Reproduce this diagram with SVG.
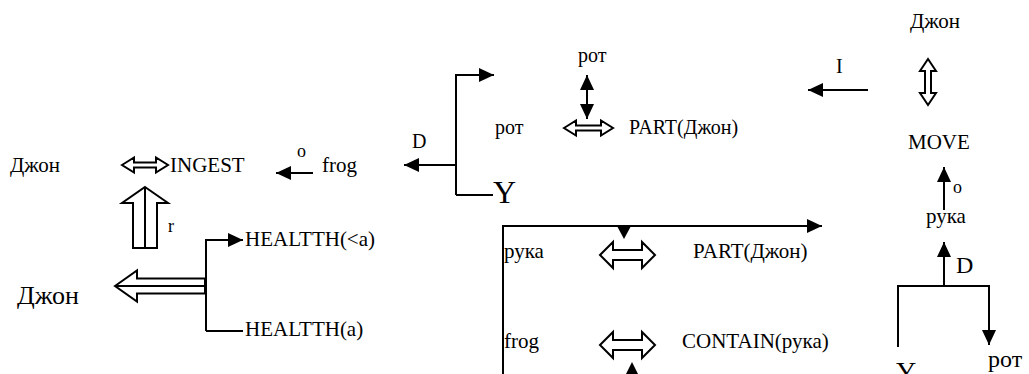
<svg xmlns="http://www.w3.org/2000/svg" width="1029" height="374" viewBox="0 0 1029 374">
<style>
.ln{fill:none;stroke:#000;stroke-width:2}
.ho{fill:#fff;stroke:#000;stroke-width:2;stroke-linejoin:miter}
.fh{fill:#000}
</style>
<defs>
<marker id="ah" viewBox="0 0 15 14" refX="15" refY="7" markerWidth="15" markerHeight="14" orient="auto" markerUnits="userSpaceOnUse">
<path d="M0,0 L15,7 L0,14 Z" fill="#000"/>
</marker>
</defs>
<rect width="1029" height="374" fill="#fff"/>
<g id="connectors">
<path class="ho" d="M122,165 L134,157.5 L134,162.5 L156,162.5 L156,157.5 L168,165 L156,172.5 L156,167.5 L134,167.5 L134,172.5 Z"/>
<path class="ho" d="M145,187 L168,203 L157,203 L157,248 L133,248 L133,203 L122,203 Z"/>
<path class="ln" d="M145,187 V248"/>
<path class="ho" d="M115,286 L137,270.5 L137,278.5 L205,278.5 L205,293.5 L137,293.5 L137,301.5 Z"/>
<path class="ln" d="M115,286 H205"/>
<path class="ln" d="M206,331 V240 H243" marker-end="url(#ah)"/>
<path class="ln" d="M206,331 H243"/>
<path class="ln" d="M313,173 H276" marker-end="url(#ah)"/>
<path class="ln" d="M456,195 V75 H494" marker-end="url(#ah)"/>
<path class="ln" d="M456,195 H493"/>
<path class="ln" d="M456,165 H404" marker-end="url(#ah)"/>
<path class="ln" d="M587,97 V75" marker-end="url(#ah)"/>
<path class="ln" d="M587,97 V119" marker-end="url(#ah)"/>
<path class="ho" d="M564,128 L576,120.5 L576,125.5 L601,125.5 L601,120.5 L613,128 L601,135.5 L601,130.5 L576,130.5 L576,135.5 Z"/>
<path class="ln" d="M868,90 H808" marker-end="url(#ah)"/>
<path class="ho" d="M928,59 L936,71 L931,71 L931,93 L936,93 L928,105 L920,93 L925,93 L925,71 L920,71 Z"/>
<path class="ln" d="M944,210 V167" marker-end="url(#ah)"/>
<path class="ln" d="M944,286 V242" marker-end="url(#ah)"/>
<path class="ln" d="M898,347 V286 H989 V345" marker-end="url(#ah)"/>
<path class="ln" d="M503,376 V226 H822" marker-end="url(#ah)"/>
<polygon class="fh" points="617,226 631,226 624,239"/>
<path class="ho" d="M600,255 L613,242 L613,250 L642,250 L642,242 L655,255 L642,268 L642,260 L613,260 L613,268 Z"/>
<path class="ho" d="M600,345 L613,332 L613,340 L642,340 L642,332 L655,345 L642,358 L642,350 L613,350 L613,358 Z"/>
<polygon class="fh" points="625,376 639,376 632,362"/>
</g>
<g font-family="Liberation Serif" font-size="21" fill="#000">
<g id="n-john1"><text x="10" y="172">Джон</text></g>
<g id="n-ingest"><text x="170" y="172">INGEST</text></g>
<g id="n-o1"><text x="297" y="157" font-size="18">o</text></g>
<g id="n-frog1"><text x="322" y="172">frog</text></g>
<g id="n-r"><text x="168" y="232" font-size="18">r</text></g>
<g id="n-health1"><text x="245" y="246">HEALTTH(&lt;a)</text></g>
<g id="n-health2"><text x="245" y="336">HEALTTH(a)</text></g>
<g id="n-john2"><text x="17" y="304" font-size="26">Джон</text></g>
<g id="n-d1"><text x="412" y="148" font-size="20">D</text></g>
<g id="n-y1"><text x="493" y="203" font-size="32">Y</text></g>
<g id="n-rot1"><text x="578" y="62" font-size="20">рот</text></g>
<g id="n-rot2"><text x="495" y="134" font-size="20">рот</text></g>
<g id="n-part1"><text x="629" y="134" font-size="20">PART(Джон)</text></g>
<g id="n-i"><text x="836" y="73" font-size="20">I</text></g>
<g id="n-john3"><text x="910" y="28">Джон</text></g>
<g id="n-move"><text x="908" y="149">MOVE</text></g>
<g id="n-o2"><text x="953" y="193" font-size="18">o</text></g>
<g id="n-ruka1"><text x="926" y="223">рука</text></g>
<g id="n-d2"><text x="956" y="273" font-size="24">D</text></g>
<g id="n-y2"><text x="896" y="381" font-size="28">Y</text></g>
<g id="n-rot3"><text x="988" y="367" font-size="24">рот</text></g>
<g id="n-ruka2"><text x="504" y="258">рука</text></g>
<g id="n-part2"><text x="693" y="258">PART(Джон)</text></g>
<g id="n-frog2"><text x="504" y="348">frog</text></g>
<g id="n-contain"><text x="682" y="348">CONTAIN(рука)</text></g>
</g>
</svg>
